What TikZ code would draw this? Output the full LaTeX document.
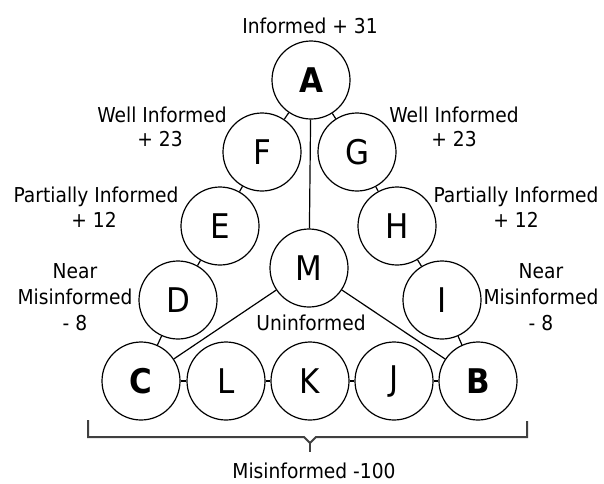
\documentclass[tikz,border=0pt]{standalone}
\usepackage{fontspec}
\setmainfont{DejaVu Sans}[FakeStretch=0.91]
\begin{document}
\begin{tikzpicture}[x=1pt,y=-1pt,
  ball/.style={circle,draw,line width=1.2pt,minimum size=78pt,inner sep=0pt,font=\fontsize{34}{34}\selectfont},
  boldball/.style={ball,font=\fontsize{34}{34}\selectfont\bfseries},
  lbl/.style={anchor=base,inner sep=0pt,font=\fontsize{20.5}{25}\selectfont},
  link/.style={line width=1.2pt},
  brace/.style={draw=black!75,line width=2pt}]
\useasboundingbox (0,0) rectangle (604,483);
% circles
\node[boldball] (A) at (311,80) {A};
\node[ball] (F) at (262,152) {F};
\node[ball] (G) at (357,152) {G};
\node[ball] (E) at (220,226) {E};
\node[ball] (H) at (397,226) {H};
\node[ball] (D) at (178,300) {D};
\node[ball] (I) at (442,300) {I};
\node[ball] (M) at (309,268) {M};
\node[boldball] (C) at (141,381) {C};
\node[ball] (L) at (226,381) {L};
\node[ball] (K) at (310,381) {K};
\node[ball] (J) at (394,381) {J};
\node[boldball] (B) at (478,381) {B};
% connectors
\draw[link] (A) -- (F);
\draw[link] (A) -- (G);
\draw[link] (F) -- (E);
\draw[link] (G) -- (H);
\draw[link] (E) -- (D);
\draw[link] (H) -- (I);
\draw[link] (D) -- (C);
\draw[link] (I) -- (B);
\draw[link] (C) -- (L);
\draw[link] (L) -- (K);
\draw[link] (K) -- (J);
\draw[link] (J) -- (B);
\draw[link] (A) -- (M);
\draw[link] (M) -- (C);
\draw[link] (M) -- (B);
% labels
\node[lbl] (t1) at (310,33) {Informed + 31};
\node[lbl] (wl1) at (162,122) {Well Informed};
\node[lbl] (wl2) at (160,146) {+ 23};
\node[lbl] (wr1) at (454,122) {Well Informed};
\node[lbl] (wr2) at (454,146) {+ 23};
\node[lbl] (pl1) at (96,202) {Partially Informed};
\node[lbl] (pl2) at (94,227) {+ 12};
\node[lbl] (pr1) at (516,202) {Partially Informed};
\node[lbl] (pr2) at (516,227) {+ 12};
\node[lbl] (nl1) at (75,278) {Near};
\node[lbl] (nl2) at (75,304) {Misinformed};
\node[lbl] (nl3) at (75,330) {- 8};
\node[lbl] (nr1) at (541,278) {Near};
\node[lbl] (nr2) at (541,304) {Misinformed};
\node[lbl] (nr3) at (541,330) {- 8};
\node[lbl] (u) at (311,330) {Uninformed};
\node[lbl] (mis) at (314,478) {Misinformed -100};
% brace
\draw[brace] (88,420) -- (88,437) -- (304,437) -- (310,443) -- (316,437) -- (527,437) -- (527,421);
\draw[brace] (310,443) -- (310,452);
\end{tikzpicture}
\end{document}
